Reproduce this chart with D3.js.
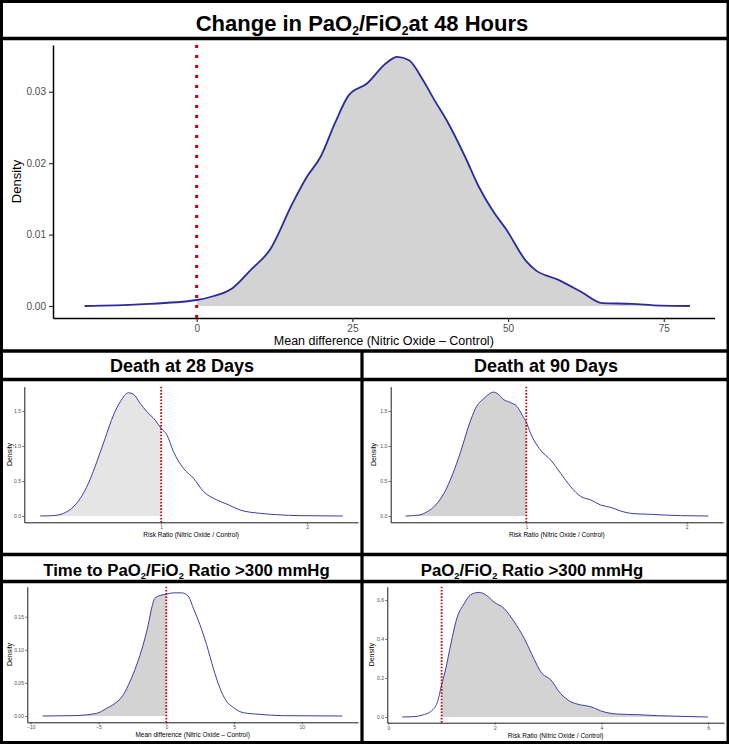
<!DOCTYPE html>
<html lang="en">
<head>
<meta charset="utf-8">
<title>Posterior densities - nitric oxide</title>
<script src="https://d3js.org/d3.v7.min.js"></script>
<style>
  body { margin: 0; background: #fff; }
  svg text { font-family: "Liberation Sans", Arial, Helvetica, sans-serif; }
</style>
</head>
<body>
<div id="chart"></div>
<script>
// Change in PaO2/FiO2 at 48 hours (mean difference)
var pfX = [-18.0, -9.2, 0, 2.76, 5.74, 8.73, 11.7, 15.4, 17.7, 19.9, 22.2, 24.4, 27.4, 30.4, 32.2, 34.1, 36.35, 38.2, 40.4, 43.1, 45.3, 47.5, 49.8, 52.8, 54.3, 58.0, 61.7, 65.1, 69.9, 74.4, 79.2];
var pfY = [0, 0.00023, 0.00084, 0.0014, 0.0025, 0.0051, 0.0078, 0.0144, 0.0181, 0.0209, 0.0256, 0.0295, 0.0312, 0.0340, 0.0349, 0.0344, 0.0316, 0.0288, 0.0256, 0.0209, 0.0167, 0.0134, 0.0106, 0.0064, 0.0051, 0.0037, 0.0020, 0.0004, 0.0003, 0.00005, 0];
var pfXTicks = [0, 25, 50, 75];
var pfYTicks = [0, 0.01, 0.02, 0.03];

// Death at 28 days (risk ratio)
var d28X = [0.171, 0.262, 0.331, 0.388, 0.445, 0.502, 0.560, 0.616, 0.673, 0.719, 0.776, 0.810, 0.856, 0.902, 0.959, 1.0, 1.039, 1.084, 1.153, 1.221, 1.290, 1.381, 1.450, 1.541, 1.678, 1.792, 1.952, 2.244];
var d28Y = [0, 0.005, 0.038, 0.11, 0.25, 0.47, 0.78, 1.11, 1.44, 1.63, 1.76, 1.74, 1.61, 1.49, 1.37, 1.25, 1.16, 0.92, 0.68, 0.54, 0.35, 0.23, 0.17, 0.086, 0.038, 0.019, 0.005, 0];

// Death at 90 days (risk ratio)
var d90X = [0.248, 0.331, 0.383, 0.435, 0.487, 0.539, 0.591, 0.643, 0.684, 0.736, 0.798, 0.819, 0.861, 0.902, 0.944, 0.975, 1.0, 1.027, 1.089, 1.152, 1.214, 1.276, 1.339, 1.401, 1.463, 1.526, 1.588, 1.671, 1.775, 1.858, 1.962, 2.135];
var d90Y = [0, 0.014, 0.062, 0.157, 0.324, 0.586, 0.919, 1.30, 1.54, 1.68, 1.77, 1.75, 1.66, 1.62, 1.56, 1.44, 1.34, 1.18, 0.94, 0.80, 0.61, 0.42, 0.28, 0.23, 0.157, 0.124, 0.071, 0.033, 0.024, 0.014, 0.005, 0];
var rrXTicks = [1, 2];
var rrYTicks = [0, 0.5, 1.0, 1.5];

// Time to PaO2/FiO2 ratio > 300 mmHg (mean difference)
var ttX = [-9.12, -6.86, -5.14, -4.40, -3.79, -3.17, -2.68, -2.19, -1.70, -1.33, -1.08, -0.84, -0.47, 0, 0.52, 1.13, 1.62, 1.99, 2.48, 2.97, 3.47, 3.96, 4.45, 4.94, 5.68, 6.91, 8.63, 12.98];
var ttY = [0, 0.0005, 0.004, 0.0116, 0.019, 0.032, 0.052, 0.077, 0.108, 0.138, 0.163, 0.178, 0.182, 0.184, 0.186, 0.186, 0.181, 0.163, 0.138, 0.108, 0.072, 0.042, 0.022, 0.013, 0.005, 0.0025, 0.0005, 0];
var ttXTicks = [-10, -5, 0, 5, 10];
var ttYTicks = [0, 0.05, 0.10, 0.15];

// PaO2/FiO2 ratio > 300 mmHg (risk ratio)
var prX = [0.263, 0.48, 0.64, 0.79, 0.92, 1.0, 1.08, 1.17, 1.29, 1.42, 1.54, 1.70, 1.83, 1.98, 2.17, 2.36, 2.55, 2.73, 2.86, 3.05, 3.23, 3.42, 3.61, 3.80, 3.98, 4.30, 4.67, 5.05, 5.48, 6.0];
var prY = [0, 0.0017, 0.010, 0.027, 0.075, 0.165, 0.25, 0.37, 0.51, 0.58, 0.626, 0.639, 0.626, 0.59, 0.557, 0.489, 0.403, 0.30, 0.232, 0.190, 0.121, 0.079, 0.062, 0.053, 0.032, 0.015, 0.012, 0.007, 0.0034, 0];
var prXTicks = [0, 2, 4, 6];
var prYTicks = [0, 0.2, 0.4, 0.6];

var W = 729, H = 746;
var svg = d3.select("#chart").append("svg")
    .attr("width", W).attr("height", H);

var panel = function(o) {
    var x = d3.scaleLinear().domain(o.xDomain).range([o.left, o.right]);
    var y = d3.scaleLinear().domain(o.yDomain).range([o.bottom, o.top]);
    var pts = o.xs.map(function(v, i) { return [v, o.ys[i]]; });

    // shade only one side of the reference value
    var clipId = "clip_" + o.id;
    var xr = x(o.ref);
    svg.append("clipPath").attr("id", clipId).append("rect")
        .attr("x", o.side == "right" ? xr : o.left)
        .attr("width", o.side == "right" ? o.right - xr : xr - o.left)
        .attr("y", o.top).attr("height", o.bottom - o.top);

    var area = d3.area().curve(d3.curveMonotoneX)
        .x(function(d) { return x(d[0]); })
        .y0(y(0))
        .y1(function(d) { return y(d[1]); });
    var line = d3.line().curve(d3.curveMonotoneX)
        .x(function(d) { return x(d[0]); })
        .y(function(d) { return y(d[1]); });

    svg.append("path").datum(pts)
        .attr("d", area)
        .attr("fill", o.fill)
        .attr("clip-path", "url(#" + clipId + ")");
    svg.append("path").datum(pts)
        .attr("d", line)
        .attr("fill", "none")
        .attr("stroke", o.lineColor)
        .attr("stroke-width", o.lineW);

    // axes
    var xa = svg.append("g")
        .attr("transform", "translate(0," + o.bottom + ")")
        .call(d3.axisBottom(x).tickValues(o.xTicks).tickFormat(o.xFmt)
            .tickSize(o.tick).tickSizeOuter(0).tickPadding(o.pad));
    var ya = svg.append("g")
        .attr("transform", "translate(" + o.left + ",0)")
        .call(d3.axisLeft(y).tickValues(o.yTicks).tickFormat(o.yFmt)
            .tickSize(o.tick).tickSizeOuter(0).tickPadding(o.pad));
    [xa, ya].forEach(function(a) {
        a.select(".domain").attr("stroke", "#000").attr("stroke-width", o.axisW);
        a.selectAll(".tick line").attr("stroke", "#333").attr("stroke-width", o.axisW * 0.8);
        a.selectAll(".tick text")
            .attr("font-size", o.tickFont)
            .attr("fill", "#4d4d4d")
            .style("font-family", "'Liberation Sans', Arial, sans-serif");
    });

    // reference line
    svg.append("line")
        .attr("x1", xr).attr("x2", xr)
        .attr("y1", o.top).attr("y2", o.bottom)
        .attr("stroke", "#cc0000")
        .attr("stroke-width", o.refW)
        .attr("stroke-dasharray", o.refDash);

    svg.append("text")
        .attr("x", (o.left + o.right) / 2)
        .attr("y", o.bottom + o.xLabOff)
        .attr("text-anchor", "middle")
        .attr("font-size", o.labFont)
        .text(o.xLabel);
    svg.append("text")
        .attr("transform", "translate(" + o.yLabX + "," + (o.top + o.bottom) / 2 + ") rotate(-90)")
        .attr("text-anchor", "middle")
        .attr("font-size", o.labFont * o.yLabScale)
        .text("Density");
};

// titles with subscripts; each tspan carries its own vertical offset
var title = function(cx, by, size, parts) {
    var t = svg.append("text")
        .attr("x", cx).attr("y", by)
        .attr("text-anchor", "middle")
        .attr("font-size", size)
        .attr("font-weight", "bold");
    var low = false;
    parts.forEach(function(p) {
        var ts = t.append("tspan").text(p.s);
        if (p.sub) {
            ts.attr("font-size", size * 0.55);
            if (!low) ts.attr("dy", size * 0.2);
            low = true;
        } else if (low) {
            ts.attr("dy", -size * 0.2);
            low = false;
        }
    });
};

title(362, 31, 22, [{s: "Change in PaO"}, {s: "2", sub: true}, {s: "/FiO"}, {s: "2", sub: true}, {s: "at 48 Hours"}]);
title(182, 372, 18, [{s: "Death at 28 Days"}]);
title(546, 372, 18, [{s: "Death at 90 Days"}]);
title(186.5, 575.5, 16.8, [{s: "Time to PaO"}, {s: "2", sub: true}, {s: "/FiO"}, {s: "2", sub: true}, {s: " Ratio >300 mmHg"}]);
title(532, 575.5, 16.8, [{s: "PaO"}, {s: "2", sub: true}, {s: "/FiO"}, {s: "2", sub: true}, {s: " Ratio >300 mmHg"}]);

var big = {tick: 4, pad: 3, axisW: 1.5, tickFont: 10, labFont: 12.5, yLabScale: 1.04,
           lineColor: "#2b2b9c", lineW: 1.8, refW: 3, refDash: "3,7"};
var small = {tick: 2, pad: 1.4, axisW: 0.9, tickFont: 5, labFont: 6.5, yLabScale: 1.07,
             lineColor: "#3d3da8", lineW: 1, refW: 1.8, refDash: "1.6,1.6"};
var fmt1 = d3.format(".1f"), fmt2 = d3.format(".2f"), fmt0 = d3.format("d");

panel(Object.assign({}, big, {
    id: "pf", xs: pfX, ys: pfY, xTicks: pfXTicks, yTicks: pfYTicks, xFmt: fmt0, yFmt: fmt2,
    xDomain: [-23.07, 83.16], yDomain: [-0.00168, 0.03655],
    left: 53, right: 714.6, top: 45, bottom: 318,
    ref: 0, side: "right", fill: "#d3d3d3",
    xLabel: "Mean difference (Nitric Oxide \u2013 Control)", xLabOff: 27, yLabX: 21
}));
panel(Object.assign({}, small, {
    id: "d28", xs: d28X, ys: d28Y, xTicks: rrXTicks, yTicks: rrYTicks, xFmt: fmt0, yFmt: fmt1,
    xDomain: [0.062, 2.349], yDomain: [-0.09, 1.847],
    left: 24.3, right: 358, top: 386.7, bottom: 522.3,
    ref: 1, side: "left", fill: "#e5e5e5",
    xLabel: "Risk Ratio (Nitric Oxide / Control)", xLabOff: 14.8, yLabX: 11.5
}));
panel(Object.assign({}, small, {
    id: "d90", xs: d90X, ys: d90Y, xTicks: rrXTicks, yTicks: rrYTicks, xFmt: fmt0, yFmt: fmt1,
    xDomain: [0.155, 2.226], yDomain: [-0.09, 1.847],
    left: 390.7, right: 723, top: 386.7, bottom: 522.3,
    ref: 1, side: "left", fill: "#d3d3d3",
    xLabel: "Risk Ratio (Nitric Oxide / Control)", xLabOff: 14.8, yLabX: 376
}));
panel(Object.assign({}, small, {
    id: "tt", xs: ttX, ys: ttY, xTicks: ttXTicks, yTicks: ttYTicks, xFmt: fmt0, yFmt: fmt2,
    xDomain: [-10.25, 14.14], yDomain: [-0.0095, 0.1953],
    left: 27.3, right: 358, top: 586.7, bottom: 722.3,
    ref: 0, side: "left", fill: "#d3d3d3",
    xLabel: "Mean difference (Nitric Oxide \u2013 Control)", xLabOff: 14.8, yLabX: 11.5
}));
panel(Object.assign({}, small, {
    id: "pr", xs: prX, ys: prY, xTicks: prXTicks, yTicks: prYTicks, xFmt: fmt0, yFmt: fmt1,
    xDomain: [-0.019, 6.298], yDomain: [-0.0292, 0.6682],
    left: 387.3, right: 724, top: 586.7, bottom: 722.7,
    ref: 1, side: "right", fill: "#d3d3d3",
    xLabel: "Risk Ratio (Nitric Oxide / Control)", xLabOff: 14.8, yLabX: 373.5
}));

// panel frames
var frame = svg.append("g").attr("stroke", "#000").attr("fill", "none");
frame.append("rect").attr("x", 1.5).attr("y", 1.5).attr("width", 726.5).attr("height", 741)
    .attr("stroke-width", 3);
[38.5, 351, 379.5, 554.5, 581.5].forEach(function(yy) {
    frame.append("line").attr("x1", 0).attr("x2", W).attr("y1", yy).attr("y2", yy)
        .attr("stroke-width", 3.5);
});
frame.append("line").attr("x1", 362).attr("x2", 362).attr("y1", 351).attr("y2", 742.5)
    .attr("stroke-width", 3.2);
</script>
</body>
</html>
